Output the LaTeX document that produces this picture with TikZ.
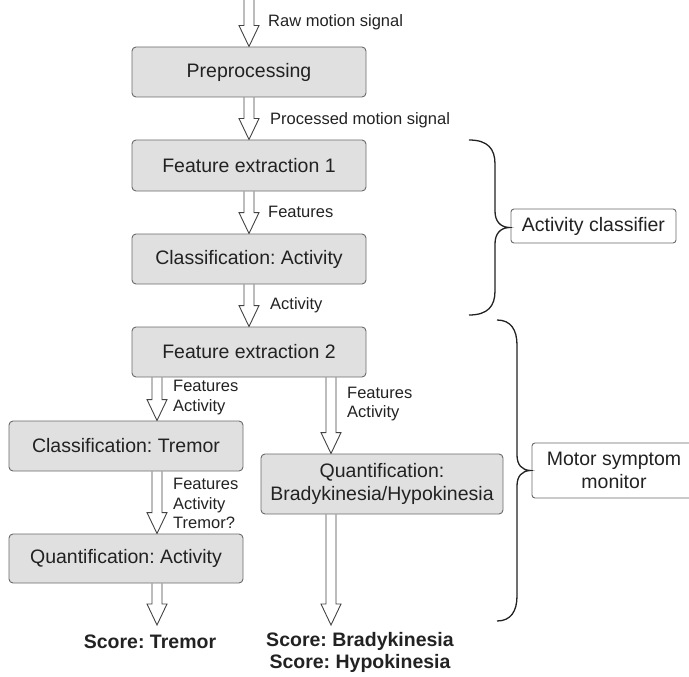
\documentclass[tikz,border=0pt]{standalone}
\usepackage{fontspec}
\setmainfont{Liberation Sans}
\frenchspacing
\usetikzlibrary{calc,backgrounds}
\definecolor{boxfill}{HTML}{E0E0E0}
\definecolor{boxline}{HTML}{6A6A6A}
\definecolor{txt}{HTML}{222222}
\newcommand\blockarr[2]{\filldraw[arr] let \p1=(#1), \p2=(#2) in
  (\x1-5pt,\y1) -- (\x1-5pt,\y2+21pt) -- (\x1-10pt,\y2+21pt) -- (\x1,\y2)
  -- (\x1+10pt,\y2+21pt) -- (\x1+5pt,\y2+21pt) -- (\x1+5pt,\y1);}
\begin{document}
\begin{tikzpicture}[x=1pt,y=-1pt,
  stagebox/.style={draw=boxline, fill=boxfill, rounded corners=4pt, line width=0.9pt,
    text=txt, inner sep=0pt, align=center, font=\fontsize{19.5}{23.5}\selectfont},
  groupbox/.style={draw=boxline, fill=white, rounded corners=3pt, line width=0.9pt,
    text=txt, inner sep=0pt, align=center, font=\fontsize{19.5}{23}\selectfont},
  lab/.style={inner sep=0pt, text=txt, align=left, anchor=west,
    font=\fontsize{16.5}{19.5}\selectfont},
  score/.style={inner sep=0pt, text=txt, align=center,
    font=\bfseries\fontsize{19.5}{21.5}\selectfont},
  arr/.style={draw=txt!85, fill=white, line width=0.9pt, line join=miter},
  bracepath/.style={draw=txt, line width=1.3pt}]
\useasboundingbox (0,0) rectangle (689,677);

% stages
\node[stagebox, minimum width=234pt, minimum height=50pt] (pre) at (249,72) {Preprocessing};
\node[stagebox, minimum width=234pt, minimum height=51pt] (fe1) at (249,165.5) {Feature extraction 1};
\node[stagebox, minimum width=234pt, minimum height=50pt] (ca) at (249,259) {Classification: Activity};
\node[stagebox, minimum width=234pt, minimum height=50pt] (fe2) at (249,352) {Feature extraction 2};
\node[stagebox, minimum width=234pt, minimum height=50pt] (ct) at (126,446) {Classification: Tremor};
\node[stagebox, minimum width=234pt, minimum height=49pt] (qa) at (126,558.5) {Quantification: Activity};
\node[stagebox, minimum width=242pt, minimum height=60pt] (qb) at (382,484) {Quantification:\\Bradykinesia/Hypokinesia};

% group boxes
\node[groupbox, minimum width=165pt, minimum height=34pt] (ac) at (593.5,226) {Activity classifier};
\node[groupbox, minimum width=164pt, minimum height=55pt] (ms) at (614,470.5) {Motor symptom\\monitor};

% column coordinates
\coordinate (in) at (249,0);
\coordinate (l) at (157,0);
\coordinate (r) at (331,0);
\coordinate (tipL) at (157,625);
\coordinate (tipR) at (331,625);

% outputs
\node[score] (st) at (150,642) {Score: Tremor};
\node[score] (sb) at (360,652.5) {Score: Bradykinesia\\Score: Hypokinesia};

% arrows
\begin{pgfonlayer}{background}
\blockarr{in}{pre.north}
\blockarr{pre.south}{fe1.north}
\blockarr{fe1.south}{ca.north}
\blockarr{ca.south}{fe2.north}
\blockarr{fe2.south -| l}{ct.north -| l}
\blockarr{ct.south -| l}{qa.north -| l}
\blockarr{qa.south -| l}{tipL}
\blockarr{fe2.south -| r}{qb.north -| r}
\blockarr{qb.south -| r}{tipR}
\end{pgfonlayer}

% arrow labels
\node[lab] (l1) at (268,22) {Raw motion signal};
\node[lab] (l2) at (270,120) {Processed motion signal};
\node[lab] (l3) at (268,212) {Features};
\node[lab] (l4) at (270,305) {Activity};
\node[lab] (l5) at (173,397.5) {Features\\Activity};
\node[lab] (l6) at (173,503.5) {Features\\Activity\\Tremor?};
\node[lab] (l7) at (347,404) {Features\\Activity};

% braces
\draw[bracepath] (469,140) .. controls (488,140) and (495,149) .. (495,164)
  -- (495,211) .. controls (495,221) and (500,227) .. (509,227.5)
  .. controls (500,228) and (495,234) .. (495,244)
  -- (495,291) .. controls (495,306) and (488,315) .. (469,315);
\draw[bracepath] (497,320) .. controls (511,320) and (517,330) .. (517,345)
  -- (517,455) .. controls (517,465) and (522,470) .. (530,470.5)
  .. controls (522,471) and (517,476) .. (517,486)
  -- (517,596) .. controls (517,611) and (511,621) .. (497,621);
\end{tikzpicture}
\end{document}
